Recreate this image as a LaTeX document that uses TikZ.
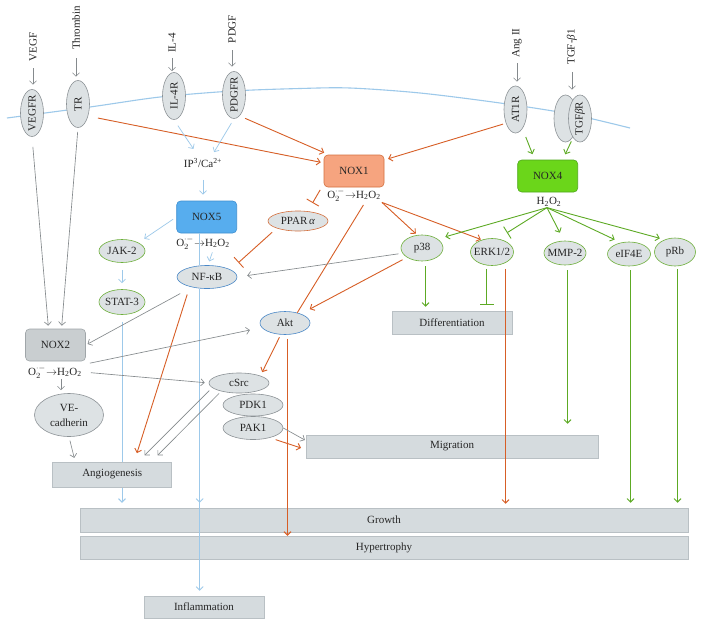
\documentclass[tikz,border=0pt]{standalone}
\usepackage{fontspec}
\setmainfont{Liberation Serif}
\usepackage{graphicx}
\usetikzlibrary{shapes.geometric,arrows.meta}
\definecolor{nfill}{HTML}{DDE2E4}
\definecolor{ngray}{HTML}{8C9296}
\definecolor{ofill}{HTML}{D5DBDE}
\definecolor{odraw}{HTML}{B9C0C4}
\definecolor{corange}{HTML}{D75E26}
\definecolor{cgreen}{HTML}{5DAA24}
\definecolor{egreen}{HTML}{6DAF3A}
\definecolor{cblue}{HTML}{9DC9EA}
\definecolor{eblue}{HTML}{4A88C7}
\definecolor{cgray}{HTML}{858A8D}
\definecolor{noxAf}{HTML}{F6A47F}
\definecolor{noxAd}{HTML}{D4703E}
\definecolor{noxDf}{HTML}{6BD61A}
\definecolor{noxDd}{HTML}{4FA81C}
\definecolor{noxEf}{HTML}{57ADEE}
\definecolor{noxEd}{HTML}{3E8FD0}
\definecolor{noxBf}{HTML}{C9CED0}
\definecolor{noxBd}{HTML}{A0A6A9}
\pgfdeclarelayer{background}
\pgfsetlayers{background,main}
\newcommand{\roschem}{O$_2^{\cdot -}$\kern0.05em$\rightarrow$H\textsubscript{2}O\textsubscript{2}}
\begin{document}
\begin{tikzpicture}[x=1pt,y=-1pt,
  every node/.style={font=\fontsize{11}{14}\selectfont, text=black!85},
  ell/.style={ellipse, fill=nfill, draw=ngray, line width=0.6pt, inner xsep=-4pt, inner ysep=-2pt},
  rec/.style={ell, minimum width=23, minimum height=47},
  lig/.style={inner sep=1pt},
  ros/.style={inner sep=1pt},
  noxbox/.style={rectangle, rounded corners=4pt, minimum width=60, minimum height=32, line width=0.6pt, inner sep=0pt},
  outbox/.style={rectangle, fill=ofill, draw=odraw, line width=0.5pt, minimum height=23, inner sep=0pt},
  tip/.style={-{Straight Barb[length=3.5pt,width=7pt]}},
  inh/.style={-{Bar[width=14pt]}},
  gl/.style={tip, draw=cgray, line width=0.65pt},
  ol/.style={tip, draw=corange, line width=0.9pt},
  gr/.style={tip, draw=cgreen, line width=0.9pt},
  bl/.style={tip, draw=cblue, line width=0.9pt},
  membrane/.style={draw=cblue, line width=1.1pt}
]
\begin{pgfonlayer}{background}
\fill[white] (0,0) rectangle (703,626);
\end{pgfonlayer}
\useasboundingbox (0,0) rectangle (703,626);

% membrane
\draw[membrane] plot[smooth] coordinates {(7,118) (90,107) (160,97) (233,91) (300,88.5) (350,88) (420,93) (500,103) (570,114) (630,128)};

% receptors
\node[rec] (vegfr) at (32,113) {\rotatebox{90}{VEGFR}};
\node[rec] (tr) at (78,104) {\rotatebox{90}{TR}};
\node[rec] (il4r) at (174,96) {\rotatebox{90}{IL-4R}};
\node[rec] (pdgfr) at (234,95) {\rotatebox{90}{PDGFR}};
\node[rec] (at1r) at (515.5,109.5) {\rotatebox{90}{AT1R}};
\node[rec] (tgfrb) at (565.5,118.5) {};
\node[rec] (tgfr) at (580,118.5) {\rotatebox{90}{TGF\textit{β}R}};

% ligands
\node[lig] (vegf) at (33,47) {\rotatebox{90}{VEGF}};
\node[lig] (thr) at (76,28) {\rotatebox{90}{Thrombin}};
\node[lig] (il4) at (172,43) {\rotatebox{90}{IL-4}};
\node[lig] (pdgf) at (232,29) {\rotatebox{90}{PDGF}};
\node[lig] (ang) at (517,43) {\rotatebox{90}{Ang II}};
\node[lig] (tgf) at (572,47) {\rotatebox{90}{TGF-\textit{β}1}};

% NOX enzymes
\node[noxbox, fill=noxAf, draw=noxAd] (nox1) at (354,171) {NOX1};
\node[noxbox, fill=noxDf, draw=noxDd] (nox4) at (547.7,176) {NOX4};
\node[noxbox, fill=noxEf, draw=noxEd] (nox5) at (206.7,217) {NOX5};
\node[noxbox, fill=noxBf, draw=noxBd] (nox2) at (55.5,345) {NOX2};

% ROS texts
\node[ros] (r1) at (354,195) {\roschem};
\node[ros] (r4) at (549,202) {H\textsubscript{2}O\textsubscript{2}};
\node[ros] (r5) at (203,243) {\roschem};
\node[ros] (r2) at (55,372) {\roschem};
\node[ros] (ip3) at (203,163) {IP\textsuperscript{3}/Ca\textsuperscript{2+}};

% signalling molecules
\node[ell, draw=noxAd, minimum width=60, minimum height=20] (ppar) at (298,221) {PPAR\,\textit{α}};
\node[ell, draw=egreen, minimum width=46, minimum height=23] (jak2) at (122,251) {JAK-2};
\node[ell, draw=egreen, minimum width=46, minimum height=25] (stat3) at (122,302) {STAT-3};
\node[ell, draw=eblue, minimum width=60, minimum height=23] (nfkb) at (207,277) {NF-κB};
\node[ell, draw=eblue, minimum width=50, minimum height=23] (akt) at (285,323) {Akt};
\node[ell, minimum width=60, minimum height=20] (csrc) at (239,383) {cSrc};
\node[ell, minimum width=60, minimum height=22] (pdk1) at (253,405) {PDK1};
\node[ell, minimum width=60, minimum height=23] (pak1) at (253,428) {PAK1};
\node[ell, minimum width=69, minimum height=43, align=center, font=\fontsize{11}{15}\selectfont] (vecad) at (69,415) {VE-\\cadherin};
\node[ell, draw=egreen, minimum width=42, minimum height=26] (p38) at (422,248) {p38};
\node[ell, draw=egreen, minimum width=43, minimum height=27] (erk) at (492,252) {ERK1/2};
\node[ell, draw=egreen, minimum width=42, minimum height=24] (mmp2) at (565,253) {MMP-2};
\node[ell, draw=egreen, minimum width=43, minimum height=24] (eif4e) at (629,254) {eIF4E};
\node[ell, draw=egreen, minimum width=41, minimum height=28] (prb) at (675,252) {pRb};

% outcomes
\node[outbox, minimum width=120] (diff) at (452,322.5) {Differentiation};
\node[outbox, minimum width=292] (migr) at (452,446.5) {Migration};
\node[outbox, minimum width=119, minimum height=25] (angio) at (112.2,474.5) {Angiogenesis};
\node[outbox, minimum width=608, minimum height=24] (growth) at (384,520) {Growth};
\node[outbox, minimum width=608] (hyper) at (384,547.5) {Hypertrophy};
\node[outbox, minimum width=120, minimum height=22] (infl) at (204,607) {Inflammation};

% STAT-3 line behind Angiogenesis
\begin{pgfonlayer}{background}
\draw[bl, shorten <=7pt, shorten >=5pt] (stat3.south) -- (stat3.south |- growth.north);
\end{pgfonlayer}

% ligand arrows
\draw[gl, shorten <=5.6pt, shorten >=4.5pt] (vegf.south) -- (vegf.south |- vegfr.north);
\draw[gl, shorten <=7pt, shorten >=3.5pt] (thr.south) -- (thr.south |- tr.north);
\draw[gl, shorten <=4pt, shorten >=1pt] (il4.south) -- (il4.south |- il4r.north);
\draw[gl, shorten <=6pt, shorten >=4.5pt] (pdgf.south) -- (pdgf.south |- pdgfr.north);
\draw[gl, shorten <=4.5pt, shorten >=4pt] (ang.south) -- (ang.south |- at1r.north);
\draw[gl, shorten <=6pt, shorten >=5pt] (tgf.south) -- (tgf.south |- tgfr.north);

% receptor outputs
\draw[gl, shorten <=10pt, shorten >=3pt] (vegfr.south) -- ([xshift=-7]nox2.north);
\draw[gl, shorten <=4pt, shorten >=3pt] (tr.south) -- ([xshift=6]nox2.north);
\draw[ol, shorten <=10pt, shorten >=3pt] (tr.-50) -- (nox1.165);
\draw[ol, shorten <=6pt, shorten >=5pt] (pdgfr.-75) -- ([xshift=5]nox1.north west);
\draw[bl, line width=0.7pt, shorten <=7pt, shorten >=10pt] (il4r.south) -- ([xshift=-4]ip3.north);
\draw[bl, line width=0.7pt, shorten <=5pt, shorten >=6pt] (pdgfr.south) -- ([xshift=8]ip3.north);
\draw[bl, line width=0.7pt, shorten <=11pt, shorten >=6pt] (ip3.south) -- (ip3.south |- nox5.north);
\draw[ol, shorten <=3pt, shorten >=4pt] (at1r.235) -- (nox1.20);
\draw[gr, shorten <=9pt, shorten >=6pt] (at1r.-70) -- ([xshift=-13]nox4.north);
\draw[gr, shorten <=4pt, shorten >=6pt] (tgfr.-110) -- ([xshift=15]nox4.north);

% NOX1 outputs
\draw[inh, draw=corange, line width=0.9pt, shorten <=3pt, shorten >=9pt] ([xshift=-2]nox1.south west) -- ([xshift=10]ppar.north);
\draw[inh, draw=corange, line width=0.9pt, shorten <=6pt] (ppar.south west) -- ([xshift=10,yshift=6]nfkb.north east);
\draw[ol, shorten >=2pt] (r1.south east) -- (p38.110);
\draw[ol, shorten >=1pt] (r1.south east) -- (erk.130);
\draw[draw=corange, line width=0.9pt, shorten <=3pt] ([xshift=11]r1.south) -- (akt.40);

% p38 outputs
\draw[ol, shorten <=5pt, shorten >=10pt] (p38.south west) -- (akt.30);
\draw[gl, shorten <=4pt, shorten >=10pt] (p38.195) -- (nfkb.east);
\draw[gr, shorten <=5pt, shorten >=4pt] ([xshift=3.5]p38.south) -- ([xshift=3.5]p38.south |- diff.north);

% NOX5 outputs
\draw[bl, line width=0.7pt, shorten <=4pt, shorten >=7pt] (nox5.west) -- (jak2.north east);
\draw[bl, line width=0.7pt, shorten <=7pt, shorten >=6pt] (jak2.south) -- (stat3.north);
\draw[bl, line width=0.7pt, shorten <=2pt, shorten >=4pt] ([xshift=10]r5.south) -- ([xshift=1]nfkb.north);
\draw[cblue, line width=0.9pt] ([xshift=-7]nox5.south) -- ([xshift=-7]nox5.south |- nfkb.north);
\draw[bl, shorten >=5pt] ([xshift=-7]nox5.south |- nfkb.south) -- ([xshift=-7]nox5.south |- infl.north);
\draw[bl, shorten >=5pt] ([xshift=-7]nox5.south |- nfkb.south) -- ([xshift=-7]nox5.south |- growth.north);

% NF-kB outputs
\draw[gl, shorten <=10pt, shorten >=2pt] ([xshift=-18]nfkb.south) -- (nox2.east);
\draw[ol, shorten <=6pt, shorten >=9pt] ([xshift=-18]nfkb.south) -- ([xshift=22]angio.north);

% NOX2 outputs
\draw[gl, shorten <=7pt, shorten >=10pt] (r2.north east) -- ([yshift=-5]akt.west);
\draw[gl, shorten <=8pt, shorten >=4pt] (r2.east) -- (csrc.west);
\draw[gl, shorten >=3pt] ([xshift=6]r2.south) -- ([xshift=6]r2.south |- vecad.north);
\draw[gl, shorten <=4pt, shorten >=4pt] (vecad.south) -- ([xshift=-37]angio.north);

% cSrc / Akt / PAK1
\draw[gl, shorten <=4pt, shorten >=9pt] (csrc.190) -- ([xshift=26]angio.north);
\draw[gl, shorten <=3pt, shorten >=9pt] (csrc.205) -- ([xshift=39]angio.north);
\draw[ol, shorten <=3pt, shorten >=4pt] (akt.250) -- (csrc.north east);
\draw[ol, shorten <=4pt] ([xshift=2.5]akt.south) -- ([xshift=2.5]akt.south |- hyper.north);
\draw[gl, shorten >=1pt] (pak1.east) -- ([yshift=6]migr.west);
\draw[ol, shorten <=6pt, shorten >=5pt] (pak1.-30) -- ([yshift=-3]migr.west);

% ERK and others
\draw[inh, draw=cgreen, line width=0.9pt, shorten <=3pt, shorten >=6pt] ([xshift=-5.5]erk.south) -- ([xshift=-5.5]erk.south |- diff.north);
\draw[ol, shorten <=3pt, shorten >=4pt] ([xshift=13.5]erk.south) -- ([xshift=13.5]erk.south |- growth.north);
\draw[gr, shorten <=5pt, shorten >=11pt] ([xshift=2.5]mmp2.south) -- ([xshift=2.5]mmp2.south |- migr.north);
\draw[gr, shorten <=4pt, shorten >=5pt] ([xshift=1.5]eif4e.south) -- ([xshift=1.5]eif4e.south |- growth.north);
\draw[gr, shorten <=3pt, shorten >=5pt] ([xshift=2.5]prb.south) -- ([xshift=2.5]prb.south |- growth.north);

% NOX4 H2O2 fan
\draw[gr, shorten >=8pt] ([xshift=-2]r4.south) -- (p38.30);
\draw[inh, draw=cgreen, line width=0.9pt, shorten >=11pt] ([xshift=-2]r4.south) -- (erk.67);
\draw[gr, shorten >=9pt] ([xshift=-2]r4.south) -- ([xshift=-1]mmp2.north);
\draw[gr, shorten >=7pt] ([xshift=-2]r4.south) -- (eif4e.125);
\draw[gr, shorten >=5pt] ([xshift=-2]r4.south) -- (prb.130);
\end{tikzpicture}
\end{document}
